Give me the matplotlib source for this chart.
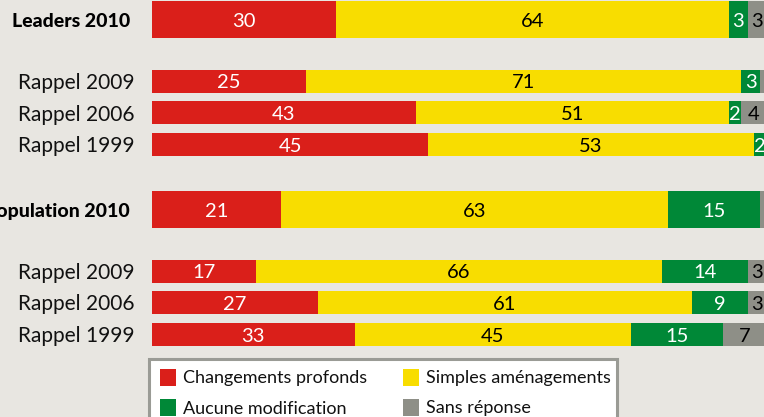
import matplotlib.pyplot as plt
from matplotlib.patches import Rectangle

# data (percentages)
rows = ["Leaders 2010", "Rappel 2009", "Rappel 2006", "Rappel 1999",
        "Population 2010", "Rappel 2009", "Rappel 2006", "Rappel 1999"]
is_main = [True, False, False, False, True, False, False, False]
profonds = [30, 25, 43, 45, 21, 17, 27, 33]
amenagements = [64, 71, 51, 53, 63, 66, 61, 45]
aucune = [3, 3, 2, 2, 15, 14, 9, 15]
sans_reponse = [3, 1, 4, 0, 1, 3, 3, 7]

series = [profonds, amenagements, aucune, sans_reponse]
names = ["Changements profonds", "Simples aménagements",
         "Aucune modification", "Sans réponse"]
colors = ["#DA1F1A", "#F8DD00", "#008837", "#8E8F87"]
text_colors = ["white", "black", "white", "black"]
bg = "#E8E6E1"

# layout (pixel-like units, y grows downward)
W, H = 764, 417
x0, scale = 152, 6.14
group_start = [19.5, 209.5]
offsets = [0, 61.5, 93, 125]
ypos = [g + o for g in group_start for o in offsets]
heights = [37 if m else 23 for m in is_main]

plt.rcParams["font.family"] = ["Lato", "DejaVu Sans"]
fig = plt.figure(figsize=(W / 100, H / 100), dpi=100)
fig.patch.set_facecolor(bg)
ax = fig.add_axes([0, 0, 1, 1])
ax.set_facecolor(bg)
ax.set_xlim(-x0 / scale, (W - x0) / scale)
ax.set_ylim(H, 0)
ax.axis("off")

left = [0] * len(rows)
for vals, col, tcol in zip(series, colors, text_colors):
    ax.barh(ypos, vals, left=left, height=heights, color=col, linewidth=0)
    for y, v, l in zip(ypos, vals, left):
        if v >= 2:
            ax.text(l + v / 2, y, str(v), ha="center", va="center_baseline",
                    color=tcol, fontsize=14.5)
    left = [a + b for a, b in zip(left, vals)]

for y, name, m in zip(ypos, rows, is_main):
    if m:
        ax.text((130 - x0) / scale, y, name, ha="right", va="center_baseline",
                fontsize=14, fontweight="black", color="black")
    else:
        ax.text((135 - x0) / scale, y, name, ha="right", va="center_baseline",
                fontsize=15, color="#111111")

# legend box drawn by hand
def fx(px):
    return px / W


def fy(py):
    return 1 - py / H


fig.patches.append(Rectangle((fx(149), fy(430)), fx(617 - 149), (430 - 359) / H,
                             transform=fig.transFigure, facecolor="white",
                             edgecolor="#9A9B95", linewidth=2.2))
leg_pos = [(160, 377), (403, 377), (160, 407), (403, 407)]
for (lx, ly), name, col in zip(leg_pos, names, colors):
    fig.patches.append(Rectangle((fx(lx), fy(ly + 8.5)), fx(16), 17 / H,
                                 transform=fig.transFigure, facecolor=col,
                                 linewidth=0))
    fig.text(fx(lx + 23), fy(ly), name, ha="left", va="center_baseline",
             fontsize=13, color="#111111")

fig.savefig("out.png", dpi=100, facecolor=bg)
